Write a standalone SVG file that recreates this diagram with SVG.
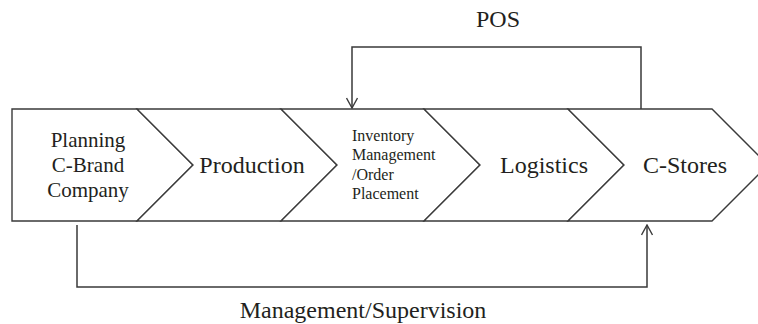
<svg xmlns="http://www.w3.org/2000/svg" width="758" height="324" viewBox="0 0 758 324">
  <style>
    .shape { fill: #ffffff; stroke: #3a3a3a; stroke-width: 1.4; stroke-linejoin: miter; }
    .conn { fill: none; stroke: #3a3a3a; stroke-width: 1.5; }
    text { font-family: "Liberation Serif", "Times New Roman", serif; fill: #231f20; }
    .big { font-size: 24px; text-anchor: middle; }
    .mid { font-size: 21px; text-anchor: middle; }
    .small { font-size: 16px; }
  </style>
  <defs>
    <marker id="arrow" viewBox="0 0 12 12" refX="11" refY="6" markerWidth="12" markerHeight="12" markerUnits="userSpaceOnUse" orient="auto">
      <path d="M1,0.5 L11,6 L1,11.5" fill="none" stroke="#3a3a3a" stroke-width="1.4"/>
    </marker>
  </defs>
  <rect width="758" height="324" fill="#ffffff"/>

  <g id="node-planning">
    <polygon class="shape" points="12,109 137,109 193,165 137,221 12,221"/>
    <text class="mid" x="88" y="147">Planning</text>
    <text class="mid" x="88" y="172">C-Brand</text>
    <text class="mid" x="88" y="197">Company</text>
  </g>
  <g id="node-production">
    <polygon class="shape" points="137,109 281,109 337,165 281,221 137,221 193,165"/>
    <text class="big" x="252" y="173">Production</text>
  </g>
  <g id="node-inventory">
    <polygon class="shape" points="281,109 424,109 480,165 424,221 281,221 337,165"/>
    <text class="small" x="352" y="141">Inventory</text>
    <text class="small" x="352" y="160">Management</text>
    <text class="small" x="352" y="180">/Order</text>
    <text class="small" x="352" y="199">Placement</text>
  </g>
  <g id="node-logistics">
    <polygon class="shape" points="424,109 568,109 624,165 568,221 424,221 480,165"/>
    <text class="big" x="544" y="173">Logistics</text>
  </g>
  <g id="node-cstores">
    <polygon class="shape" points="568,109 712,109 768,165 712,221 568,221 624,165"/>
    <text class="big" x="685" y="173">C-Stores</text>
  </g>

  <g id="connectors">
    <path class="conn" d="M641,109 V47 H352 V108" marker-end="url(#arrow)"/>
    <path class="conn" d="M77,225 V287 H647 V225" marker-end="url(#arrow)"/>
    <text class="big" x="498" y="27">POS</text>
    <text class="big" x="363" y="318">Management/Supervision</text>
  </g>
</svg>
